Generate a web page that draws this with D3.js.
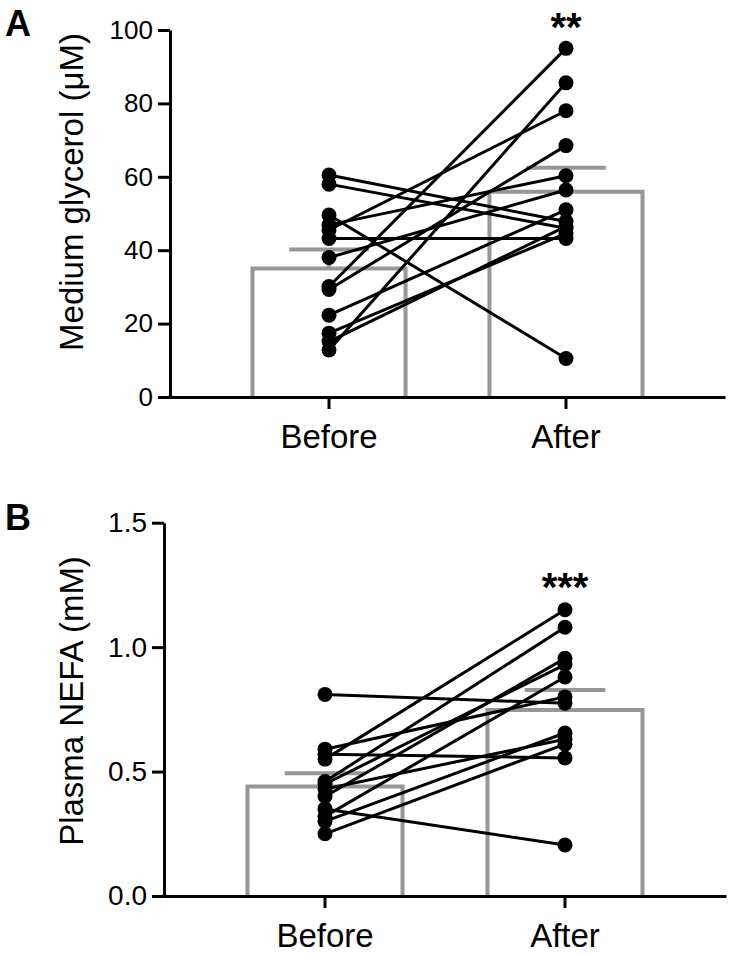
<!DOCTYPE html>
<html>
<head>
<meta charset="utf-8">
<script src="https://cdn.jsdelivr.net/npm/d3@7/dist/d3.min.js"></script>
<style>
  html, body { margin: 0; padding: 0; background: #fff; }
  svg { display: block; font-family: "Liberation Sans", Arial, Helvetica, sans-serif; }
</style>
</head>
<body>
<svg id="chart" width="730" height="956"></svg>
<script>
// ---------- data ----------
const categories = ["Before", "After"];

// Panel A: Medium glycerol (µM), paired subjects
const glycerolBefore = [60.5, 58.0, 49.6, 46.9, 45.5, 43.2, 38.0, 30.1, 29.3, 22.3, 17.4, 15.1, 12.8];
const glycerolAfter  = [47.8, 46.0, 10.5, 60.3, 78.0, 43.2, 56.4, 95.0, 68.5, 51.0, 44.6, 46.5, 85.6];
const glycerolMean   = [35.0, 55.9];
const glycerolSEM    = [5.2, 6.6];
const glycerolTicks  = [0, 20, 40, 60, 80, 100];

// Panel B: Plasma NEFA (mM), paired subjects
const nefaBefore = [0.81, 0.59, 0.57, 0.55, 0.46, 0.45, 0.43, 0.40, 0.35, 0.32, 0.30, 0.25];
const nefaAfter  = [0.775, 0.80, 0.555, 1.15, 1.08, 0.93, 0.63, 0.955, 0.205, 0.88, 0.655, 0.61];
const nefaMean   = [0.44, 0.747];
const nefaSEM    = [0.053, 0.081];
const nefaTicks  = [0.0, 0.5, 1.0, 1.5];

// ---------- drawing ----------
const svg = d3.select("#chart");
const GRAY = "#979797";

function drawPanel(cfg) {
  const g = svg.append("g");
  const x = d3.scaleBand().domain(categories)
    .range([cfg.left, cfg.right]).paddingInner(0.354).paddingOuter(0.348);
  const y = d3.scaleLinear().domain(cfg.domain).range([cfg.bottom, cfg.top]);
  const cx = c => x(c) + x.bandwidth() / 2;

  // bars (open outline)
  g.selectAll("path.bar").data(categories).join("path")
    .attr("class", "bar")
    .attr("d", (c, i) => {
      const x0 = x(c), x1 = x(c) + x.bandwidth();
      return `M${x0},${y(0)}V${y(cfg.mean[i])}H${x1}V${y(0)}`;
    })
    .attr("fill", "none").attr("stroke", GRAY).attr("stroke-width", 4);

  // SEM (upper)
  const capW = x.bandwidth() * 0.52;
  g.selectAll("line.errv").data(categories).join("line")
    .attr("x1", c => cx(c)).attr("x2", c => cx(c))
    .attr("y1", (c, i) => y(cfg.mean[i])).attr("y2", (c, i) => y(cfg.mean[i] + cfg.sem[i]))
    .attr("stroke", GRAY).attr("stroke-width", 4);
  g.selectAll("line.errc").data(categories).join("line")
    .attr("x1", c => cx(c) - capW / 2).attr("x2", c => cx(c) + capW / 2)
    .attr("y1", (c, i) => y(cfg.mean[i] + cfg.sem[i])).attr("y2", (c, i) => y(cfg.mean[i] + cfg.sem[i]))
    .attr("stroke", GRAY).attr("stroke-width", 4);

  // paired lines
  const pairs = cfg.before.map((b, i) => [b, cfg.after[i]]);
  g.selectAll("line.pair").data(pairs).join("line")
    .attr("x1", cx("Before")).attr("x2", cx("After"))
    .attr("y1", d => y(d[0])).attr("y2", d => y(d[1]))
    .attr("stroke", "#000").attr("stroke-width", 3);

  // dots
  const pts = [];
  pairs.forEach(d => { pts.push(["Before", d[0]]); pts.push(["After", d[1]]); });
  g.selectAll("circle").data(pts).join("circle")
    .attr("cx", d => cx(d[0])).attr("cy", d => y(d[1])).attr("r", 7.5).attr("fill", "#000");

  // y axis
  const ya = g.append("g").attr("transform", `translate(${cfg.left},0)`)
    .call(d3.axisLeft(y).tickValues(cfg.ticks).tickFormat(cfg.fmt).tickSize(12).tickPadding(5).tickSizeOuter(0));
  // x axis
  const xa = g.append("g").attr("transform", `translate(0,${cfg.bottom})`)
    .call(d3.axisBottom(x).tickSize(12).tickPadding(cfg.xPad).tickSizeOuter(0));
  [ya, xa].forEach(a => {
    a.select(".domain").attr("stroke", "#000").attr("stroke-width", 3);
    a.selectAll(".tick line").attr("stroke", "#000").attr("stroke-width", 3);
  });
  ya.selectAll(".tick text").attr("font-size", cfg.tickFont).attr("fill", "#000")
    .attr("font-family", "Liberation Sans, Arial, sans-serif");
  xa.selectAll(".tick text").attr("font-size", 33).attr("fill", "#000")
    .attr("font-family", "Liberation Sans, Arial, sans-serif");
  // join corner
  g.append("line").attr("x1", cfg.left).attr("x2", cfg.left + 1)
    .attr("y1", cfg.bottom).attr("y2", cfg.bottom).attr("stroke", "#000").attr("stroke-width", 3)
    .attr("stroke-linecap", "square");

  // y title
  g.append("text")
    .attr("transform", `translate(${cfg.titleX},${cfg.titleY}) rotate(-90)`)
    .attr("text-anchor", "middle").attr("font-size", 33).attr("fill", "#000")
    .text(cfg.title);

  // panel letter
  g.append("text").attr("x", 5).attr("y", cfg.letterY)
    .attr("font-size", 36).attr("font-weight", "bold").attr("fill", "#000")
    .text(cfg.letter);

  // significance
  g.append("text").attr("x", cx("After")).attr("y", cfg.starY)
    .attr("text-anchor", "middle").attr("font-size", 40).attr("font-weight", "bold").attr("fill", "#000")
    .text(cfg.stars);
}

drawPanel({
  left: 170, right: 725, top: 30, bottom: 397, domain: [0, 100],
  before: glycerolBefore, after: glycerolAfter, mean: glycerolMean, sem: glycerolSEM,
  ticks: glycerolTicks, fmt: d3.format("d"), xPad: 16, tickFont: 26,
  title: "Medium glycerol (\u03bcM)", titleX: 83, titleY: 192,
  letter: "A", letterY: 36, stars: "**", starY: 41
});

drawPanel({
  left: 164, right: 726, top: 522.7, bottom: 896, domain: [0, 1.5],
  before: nefaBefore, after: nefaAfter, mean: nefaMean, sem: nefaSEM,
  ticks: nefaTicks, fmt: d3.format(".1f"), xPad: 16, tickFont: 28,
  title: "Plasma NEFA (mM)", titleX: 83, titleY: 701,
  letter: "B", letterY: 530, stars: "***", starY: 601
});
</script>
</body>
</html>
